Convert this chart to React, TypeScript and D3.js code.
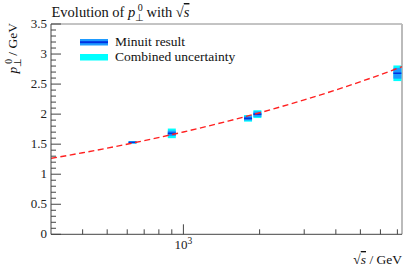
import React from "react";
import * as d3 from "d3";

const energies = [630, 900, 1800, 1960, 7000];
const values = [1.53, 1.68, 1.93, 2.0, 2.68];
const minuitErr = [0.012, 0.045, 0.035, 0.045, 0.09];
const combinedErr = [0.02, 0.08, 0.055, 0.065, 0.13];

const curveE = [300, 400, 500, 700, 1000, 1500, 2000, 3000, 4000, 5500, 7300];
const curveV = [1.264, 1.357, 1.434, 1.559, 1.703, 1.884, 2.023, 2.237, 2.402, 2.6, 2.789];

const yTicks = [0, 0.5, 1, 1.5, 2, 2.5, 3, 3.5];
const xMinor = [400, 500, 600, 700, 800, 900, 2000, 3000, 4000, 5000, 6000, 7000];

const W = 415, H = 270;
const L = 51, R = 402, T = 24, B = 234.3;
const FONT = "'Liberation Serif', serif";

export default function App() {
  const x = d3.scaleLog().domain([300, 7300]).range([L, R]);
  const y = d3.scaleLinear().domain([0, 3.5]).range([B, T]);
  const yMinor = d3.range(0, 35).map((i) => i / 10).filter((v) => Math.abs(v * 2 - Math.round(v * 2)) > 1e-6);
  const line = d3
    .line<number>()
    .x((_, i) => x(curveE[i]))
    .y((d) => y(d))
    .curve(d3.curveMonotoneX);
  const hw = 4;
  return (
    <svg width={W} height={H} style={{ position: "absolute", left: 0, top: 0 }} fontFamily={FONT}>
      <rect x={0} y={0} width={W} height={H} fill="#fff" />
      <defs>
        <clipPath id="clip">
          <rect x={L} y={T} width={R - L} height={B - T} />
        </clipPath>
      </defs>
      {/* frame */}
      <line x1={L} x2={R} y1={T} y2={T} stroke="#888" strokeWidth={1} />
      <line x1={R} x2={R} y1={T} y2={B} stroke="#bbb" strokeWidth={2} />
      {/* data */}
      <g clipPath="url(#clip)">
        {energies.map((e, i) => (
          <g key={e}>
            <rect
              x={x(e) - hw}
              width={2 * hw}
              y={y(values[i] + combinedErr[i])}
              height={y(values[i] - combinedErr[i]) - y(values[i] + combinedErr[i])}
              fill="#00ffff"
            />
            <rect
              x={x(e) - hw}
              width={2 * hw}
              y={y(values[i] + minuitErr[i])}
              height={y(values[i] - minuitErr[i]) - y(values[i] + minuitErr[i])}
              fill="#1e9bff"
            />
            <line x1={x(e) - hw} x2={x(e) + hw} y1={y(values[i])} y2={y(values[i])} stroke="#0030e0" strokeWidth={1.6} />
          </g>
        ))}
        <path d={line(curveV) || ""} fill="none" stroke="#ff2020" strokeWidth={1.4} strokeDasharray="6,3.5" />
      </g>
      {/* axes */}
      <line x1={L} x2={L} y1={T} y2={B} stroke="#444" strokeWidth={1} />
      <line x1={L} x2={R} y1={B} y2={B} stroke="#444" strokeWidth={1} />
      {yTicks.map((t) => (
        <g key={t}>
          <line x1={L} x2={L + 10} y1={y(t)} y2={y(t)} stroke="#444" />
          <text x={L - 4} y={y(t) + 4} textAnchor="end" fontSize={13} fill="#222">
            {String(t)}
          </text>
        </g>
      ))}
      {yMinor.map((t) => (
        <line key={t} x1={L} x2={L + 5} y1={y(t)} y2={y(t)} stroke="#444" />
      ))}
      {xMinor.map((t) => (
        <line key={t} x1={x(t)} x2={x(t)} y1={B} y2={B - 5} stroke="#444" />
      ))}
      <line x1={x(1000)} x2={x(1000)} y1={B} y2={B - 10} stroke="#444" />
      <text x={x(1000)} y={249} textAnchor="middle" fontSize={13} fill="#222">
        10<tspan dy={-5} fontSize={9.5}>3</tspan>
      </text>
      {/* title */}
      <text x={51.5} y={17} fontSize={14.5} fill="#111">
        Evolution of <tspan fontStyle="italic">p</tspan>
        <tspan fontSize={10} dy={4}>⊥</tspan>
        <tspan fontSize={10} dx={-6.5} dy={-10}>0</tspan>
        <tspan dy={6}> with √</tspan>
        <tspan fontStyle="italic" textDecoration="overline">s</tspan>
      </text>
      {/* y label */}
      <text transform={`translate(17, ${T - 1}) rotate(-90)`} textAnchor="end" fontSize={13.5} fill="#111">
        <tspan fontStyle="italic">p</tspan>
        <tspan fontSize={9.5} dy={4}>⊥</tspan>
        <tspan fontSize={9.5} dx={-6} dy={-9}>0</tspan>
        <tspan dy={5}>  / GeV</tspan>
      </text>
      {/* x label */}
      <text x={R} y={264} textAnchor="end" fontSize={13.5} fill="#111">
        √<tspan fontStyle="italic" textDecoration="overline">s</tspan>  / GeV
      </text>
      {/* legend */}
      <rect x={80} y={39} width={28} height={6.5} fill="#1e9bff" />
      <line x1={80} x2={108} y1={42.2} y2={42.2} stroke="#0030e0" strokeWidth={2} />
      <text x={115} y={46} fontSize={13.5} fill="#111">Minuit result</text>
      <rect x={80} y={54} width={28} height={6.5} fill="#00ffff" />
      <text x={115} y={61} fontSize={13.5} fill="#111">Combined uncertainty</text>
    </svg>
  );
}
